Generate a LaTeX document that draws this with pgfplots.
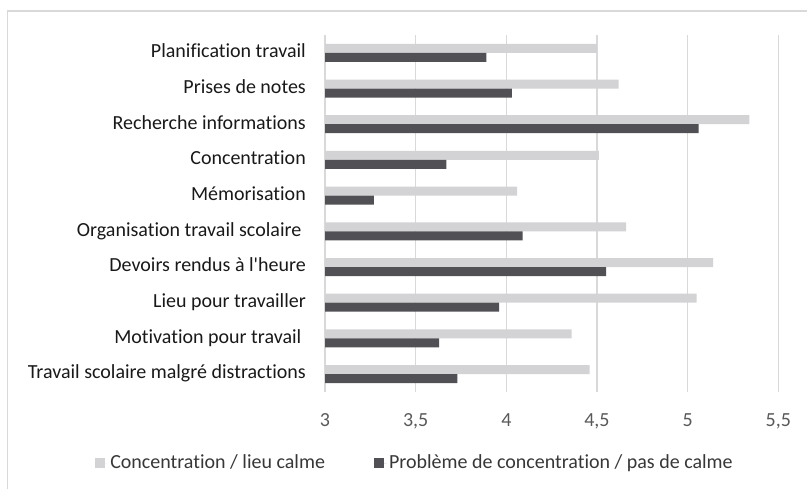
\documentclass[border=0pt]{standalone}
\usepackage{fontspec}
\setmainfont{Carlito}[Ligatures={TeX,NoCommon,NoContextual,NoRare}]
\usepackage{pgfplots}
\pgfplotsset{compat=1.18}
\definecolor{lightbar}{RGB}{211,211,213}
\definecolor{darkbar}{RGB}{80,80,85}
\definecolor{gridc}{RGB}{217,217,217}
\definecolor{ticktext}{RGB}{89,89,89}
\definecolor{labtext}{RGB}{25,25,25}
\definecolor{legtext}{RGB}{55,55,55}
\begin{document}
\begin{tikzpicture}[x=1bp,y=1bp]
\fontsize{20bp}{24bp}\selectfont
\draw[gridc, line width=1.2bp] (7.5,0) -- (7.5,478) -- (807,478);
\begin{axis}[
  at={(325bp,97bp)}, anchor=south west,
  scale only axis, width=453.3bp, height=357bp,
  xbar, bar width=9bp,
  xmin=3, xmax=5.5, ymin=-0.5, ymax=9.5,
  xtick={3,3.5,4,4.5,5,5.5}, ytick={0,1,2,3,4,5,6,7,8,9},
  yticklabels={Travail scolaire malgré distractions, Motivation pour travail\hspace*{4.5bp}, Lieu pour travailler, Devoirs rendus à l\textquotesingle heure, Organisation travail scolaire\hspace*{4.5bp}, Mémorisation, Concentration, Recherche informations, Prises de notes, Planification travail},
  axis line style={draw=none},
  major tick length=0pt,
  xmajorgrids, grid style={gridc, line width=1.2bp},
  /pgf/number format/assume math mode=true,
  /pgf/number format/use comma,
  xticklabel style={font=\fontsize{20bp}{24bp}\selectfont, text=ticktext, anchor=base, inner sep=0pt, yshift=-34.4bp},
  yticklabel style={font=\fontsize{20bp}{24bp}\selectfont, text=labtext, anchor=mid east, inner sep=0pt, xshift=-19bp},
  legend style={at={(0.1985,-0.199)}, anchor=center, draw=none, fill=none,
    font=\fontsize{20bp}{24bp}\selectfont, text=legtext, legend columns=2,
    /tikz/every even column/.append style={column sep=46bp},
    nodes={inner sep=2.5bp}},
  legend image code/.code={\fill[#1,draw=none] (0bp,-5bp) rectangle (10.5bp,5.5bp); \path (0bp,0bp) -- (13bp,0bp);},
]
\addplot[fill=lightbar, draw=none, bar shift=4.5bp] coordinates {
(4.46,0) (4.36,1) (5.05,2) (5.14,3) (4.66,4) (4.06,5) (4.51,6) (5.34,7) (4.62,8) (4.50,9)};
\addplot[fill=darkbar, draw=none, bar shift=-4.5bp] coordinates {
(3.73,0) (3.63,1) (3.96,2) (4.55,3) (4.09,4) (3.27,5) (3.67,6) (5.06,7) (4.03,8) (3.89,9)};
\legend{Concentration / lieu calme, Problème de concentration / pas de calme}
\end{axis}
\pgfresetboundingbox
\path[use as bounding box] (0,0) rectangle (807,489);
\end{tikzpicture}
\end{document}
